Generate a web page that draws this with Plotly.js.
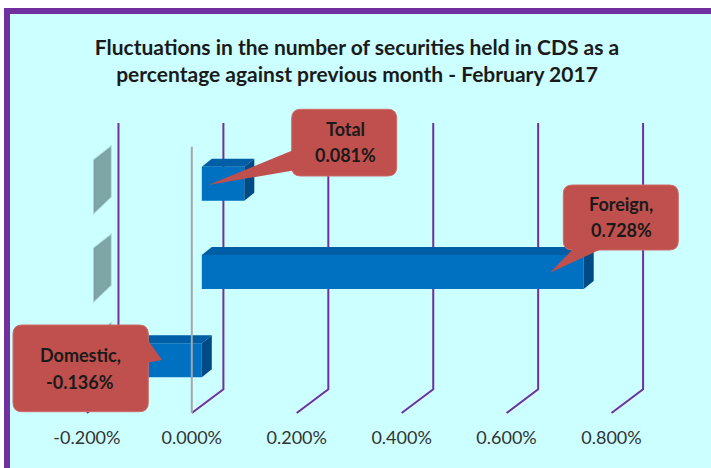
<!DOCTYPE html>
<html>
<head>
<meta charset="utf-8">
<script src="https://cdn.plot.ly/plotly-3.0.1.min.js"></script>
<style>html,body{margin:0;padding:0;background:#fff;}#chart{width:711px;height:468px;}</style>
</head>
<body>
<div id="chart"></div>
<script>
// ---- data ----
const categories = ['Domestic', 'Foreign', 'Total'];
const values = [-0.136, 0.728, 0.081];           // % change vs previous month
const labelNames = ['Domestic,', 'Foreign,', 'Total'];
const tickValues = [-0.2, 0, 0.2, 0.4, 0.6, 0.8];
const tickLabels = ['-0.200%', '0.000%', '0.200%', '0.400%', '0.600%', '0.800%'];
const titleText = 'Fluctuations in the number of securities held in CDS as a<br>percentage against previous month - February 2017';

// ---- layout geometry ----
const W = 711, H = 468;
const ML = 40, MR = 21, MT = 123, MB = 55;
const PW = W - ML - MR, PH = H - MT - MB;
const PXU = 524.6, X0PX = 191.8;       // px per 1%, front zero position
const PYU = 88.3, Y0PX = 360.3;        // px per category, first category centre
const xrFront = [(ML - X0PX) / PXU, (ML + PW - X0PX) / PXU];
const BAR_SHIFT = 10 / PXU;
const xrBars = [xrFront[0] - BAR_SHIFT, xrFront[1] - BAR_SHIFT];
const yr = [-(MT + PH - Y0PX) / PYU, (Y0PX - MT) / PYU];
const BAR_W = 0.385;
const DX = 10 / PXU, DY = 8 / PYU;

const px = x => (x - ML) / PW;
const py = y => (MT + PH - y) / PH;
const P = (x, y) => px(x) + ',' + py(y);

const shapes = [];
// background + border
shapes.push({type:'rect', xref:'paper', yref:'paper', layer:'below',
  x0:px(7), x1:px(716), y0:py(11), y1:py(474),
  fillcolor:'#ccffff', line:{color:'#7030a0', width:6}});

// gray wall tabs at each category
categories.forEach((c, i) => {
  shapes.push({type:'path', xref:'paper', yref:'y', layer:'below',
    path:`M ${px(94)},${i+0.268} L ${px(110.7)},${i+0.417} L ${px(110.7)},${i-0.148} L ${px(94)},${i-0.328} Z`,
    fillcolor:'rgba(112,150,150,0.85)', line:{color:'rgba(112,150,150,0.4)', width:2}});
});

// 3D gridlines
const GX = 31.6 / PXU, GB = (MT + PH - 389.3) / PH;
tickValues.forEach(t => {
  shapes.push({type:'path', xref:'x2', yref:'paper', layer:'below',
    path:`M ${t+GX},1 L ${t+GX},${GB} L ${t},0`,
    line:{color:'#7030a0', width:2}});
});

// 3D bar faces
values.forEach((v, i) => {
  const x0 = Math.min(0, v), x1 = Math.max(0, v);
  const yt = i + BAR_W / 2, yb = i - BAR_W / 2;
  shapes.push({type:'path', xref:'x', yref:'y', layer:'above',
    path:`M ${x0},${yt} L ${x1},${yt} L ${x1+DX},${yt+DY} L ${x0+DX},${yt+DY} Z`,
    fillcolor:'#005ea6', line:{width:0}});
  shapes.push({type:'path', xref:'x', yref:'y', layer:'above',
    path:`M ${x1},${yb} L ${x1},${yt} L ${x1+DX},${yt+DY} L ${x1+DX},${yb+DY} Z`,
    fillcolor:'#004a85', line:{width:0}});
});

// zero line (front)
shapes.push({type:'line', xref:'x2', yref:'paper', layer:'above',
  x0:0, x1:0, y0:0, y1:py(146.7), line:{color:'#a6a6a6', width:2}});

// callouts
function rbox(x0, y0, x1, y1, r) {
  return `M ${P(x0+r,y0)} L ${P(x1-r,y0)} Q ${P(x1,y0)} ${P(x1,y0+r)} L ${P(x1,y1-r)} Q ${P(x1,y1)} ${P(x1-r,y1)} L ${P(x0+r,y1)} Q ${P(x0,y1)} ${P(x0,y1-r)} L ${P(x0,y0+r)} Q ${P(x0,y0)} ${P(x0+r,y0)} Z`;
}
const callouts = [
  {box:[13, 325, 148.3, 411.7], tail:[[143,333],[146,363],[162,360]], cx:80, ly:[355, 382]},
  {box:[563.3, 185, 678.3, 250], tail:[[576,246],[608,246],[550,272.7]], cx:621, ly:[203.5, 230]},
  {box:[291.7, 109.3, 396.7, 176], tail:[[296,149],[296,170],[208.3,185]], cx:345, ly:[129, 155]}
];
callouts.forEach(c => {
  shapes.push({type:'path', xref:'paper', yref:'paper', layer:'above',
    path: rbox(c.box[0], c.box[1], c.box[2], c.box[3], 9),
    fillcolor:'#c0504d', line:{color:'#cf6b68', width:1}});
  shapes.push({type:'path', xref:'paper', yref:'paper', layer:'above',
    path:`M ${P(c.tail[0][0],c.tail[0][1])} L ${P(c.tail[2][0],c.tail[2][1])} L ${P(c.tail[1][0],c.tail[1][1])} Z`,
    fillcolor:'#c0504d', line:{width:0}});
});

const annFont = {family:'Lato, "Open Sans", sans-serif', size:18, color:'#1a1a1a', weight:'bold'};
const annotations = [];
values.forEach((v, i) => {
  const c = callouts[i];
  annotations.push({xref:'paper', yref:'paper', x:px(c.cx), y:py(c.ly[0]), text:labelNames[i],
    showarrow:false, xanchor:'center', yanchor:'middle', font:annFont});
  annotations.push({xref:'paper', yref:'paper', x:px(c.cx), y:py(c.ly[1]), text:v.toFixed(3)+'%',
    showarrow:false, xanchor:'center', yanchor:'middle', font:annFont});
});

const data = [{
  type:'bar', orientation:'h', y:categories, x:values, xaxis:'x', yaxis:'y',
  width:BAR_W, marker:{color:'#0070c0', line:{width:0}}, hoverinfo:'skip', showlegend:false
}];

const layout = {
  width:W, height:H,
  margin:{l:ML, r:MR, t:MT, b:MB, pad:0},
  paper_bgcolor:'#ffffff', plot_bgcolor:'rgba(0,0,0,0)',
  showlegend:false,
  title:{text:titleText, x:357/W, xref:'container', xanchor:'center',
    y:1-54.5/H, yref:'container', yanchor:'top',
    font:{family:'Lato, "Open Sans", sans-serif', size:21, color:'#1a1a1a', weight:'bold'}},
  xaxis:{range:xrBars, visible:false, fixedrange:true},
  xaxis2:{overlaying:'x', anchor:'y', side:'bottom', range:xrFront, tickmode:'array',
    tickvals:tickValues, ticktext:tickLabels, showgrid:false, zeroline:false, showline:false,
    ticks:'', ticklabelstandoff:12, fixedrange:true,
    tickfont:{family:'Lato, "Open Sans", sans-serif', size:18, color:'#333333'}},
  yaxis:{type:'category', categoryorder:'array', categoryarray:categories, range:yr,
    showticklabels:false, showgrid:false, zeroline:false, showline:false, fixedrange:true},
  shapes:shapes,
  annotations:annotations
};

Plotly.newPlot('chart', data, layout, {displayModeBar:false, staticPlot:true});
</script>
</body>
</html>
